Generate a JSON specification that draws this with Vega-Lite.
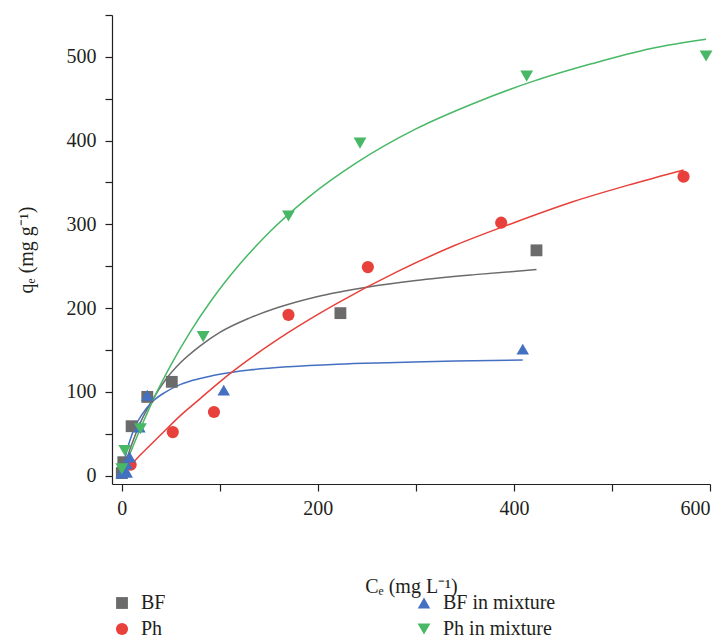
{
  "$schema": "https://vega.github.io/schema/vega-lite/v6.json",
  "width": 598,
  "height": 469,
  "autosize": "none",
  "padding": {"left": 112, "top": 15, "right": 18, "bottom": 157},
  "background": "white",
  "config": {
    "view": {"stroke": null},
    "font": "Liberation Serif",
    "axis": {
      "grid": false,
      "domainColor": "#231f20",
      "domainWidth": 1.2,
      "tickColor": "#231f20",
      "tickWidth": 1.2,
      "tickSize": 7,
      "labelFont": "Liberation Serif",
      "labelFontSize": 20,
      "labelColor": "#231f20",
      "titleFont": "Liberation Serif",
      "titleFontSize": 20,
      "titleFontWeight": "normal",
      "titleColor": "#231f20"
    },
    "legend": {
      "labelFont": "Liberation Serif",
      "labelFontSize": 20,
      "labelColor": "#231f20"
    }
  },
  "datasets": {
    "pts": [
      {"s": "BF", "x": 0, "y": 3},
      {"s": "BF", "x": 1.5, "y": 16},
      {"s": "BF", "x": 10, "y": 59},
      {"s": "BF", "x": 26, "y": 94},
      {"s": "BF", "x": 51, "y": 112},
      {"s": "BF", "x": 223, "y": 194},
      {"s": "BF", "x": 423, "y": 269},
      {"s": "Ph", "x": 9, "y": 13},
      {"s": "Ph", "x": 52, "y": 52},
      {"s": "Ph", "x": 94, "y": 76},
      {"s": "Ph", "x": 170, "y": 192},
      {"s": "Ph", "x": 251, "y": 249},
      {"s": "Ph", "x": 387, "y": 302},
      {"s": "Ph", "x": 573, "y": 357},
      {"s": "BF in mixture", "x": 0, "y": 3},
      {"s": "BF in mixture", "x": 2, "y": 8},
      {"s": "BF in mixture", "x": 5, "y": 4},
      {"s": "BF in mixture", "x": 5, "y": 14},
      {"s": "BF in mixture", "x": 8, "y": 22},
      {"s": "BF in mixture", "x": 18, "y": 58},
      {"s": "BF in mixture", "x": 26, "y": 96},
      {"s": "BF in mixture", "x": 104, "y": 102},
      {"s": "BF in mixture", "x": 409, "y": 151},
      {"s": "Ph in mixture", "x": 0, "y": 8},
      {"s": "Ph in mixture", "x": 3, "y": 30},
      {"s": "Ph in mixture", "x": 19, "y": 56},
      {"s": "Ph in mixture", "x": 83, "y": 166},
      {"s": "Ph in mixture", "x": 170, "y": 310},
      {"s": "Ph in mixture", "x": 243, "y": 397},
      {"s": "Ph in mixture", "x": 413, "y": 477},
      {"s": "Ph in mixture", "x": 596, "y": 501}
    ],
    "curves": [
      {"s": "BF", "x": 0, "y": 0},
      {"s": "BF", "x": 5, "y": 20},
      {"s": "BF", "x": 10, "y": 37},
      {"s": "BF", "x": 20, "y": 66},
      {"s": "BF", "x": 30, "y": 88},
      {"s": "BF", "x": 45, "y": 115},
      {"s": "BF", "x": 60, "y": 135},
      {"s": "BF", "x": 80, "y": 155},
      {"s": "BF", "x": 100, "y": 171},
      {"s": "BF", "x": 130, "y": 188},
      {"s": "BF", "x": 160, "y": 201},
      {"s": "BF", "x": 200, "y": 214},
      {"s": "BF", "x": 250, "y": 225},
      {"s": "BF", "x": 300, "y": 233},
      {"s": "BF", "x": 360, "y": 240},
      {"s": "BF", "x": 423, "y": 246},
      {"s": "BF in mixture", "x": 0, "y": 0},
      {"s": "BF in mixture", "x": 2, "y": 13},
      {"s": "BF in mixture", "x": 5, "y": 29},
      {"s": "BF in mixture", "x": 10, "y": 48},
      {"s": "BF in mixture", "x": 15, "y": 62},
      {"s": "BF in mixture", "x": 20, "y": 72},
      {"s": "BF in mixture", "x": 30, "y": 87},
      {"s": "BF in mixture", "x": 45, "y": 100},
      {"s": "BF in mixture", "x": 60, "y": 109},
      {"s": "BF in mixture", "x": 80, "y": 116},
      {"s": "BF in mixture", "x": 100, "y": 121},
      {"s": "BF in mixture", "x": 130, "y": 126},
      {"s": "BF in mixture", "x": 170, "y": 130},
      {"s": "BF in mixture", "x": 220, "y": 133},
      {"s": "BF in mixture", "x": 280, "y": 135},
      {"s": "BF in mixture", "x": 340, "y": 137},
      {"s": "BF in mixture", "x": 409, "y": 138},
      {"s": "Ph", "x": 8, "y": 11},
      {"s": "Ph", "x": 20, "y": 26},
      {"s": "Ph", "x": 40, "y": 49},
      {"s": "Ph", "x": 60, "y": 72},
      {"s": "Ph", "x": 80, "y": 92},
      {"s": "Ph", "x": 100, "y": 112},
      {"s": "Ph", "x": 130, "y": 139},
      {"s": "Ph", "x": 170, "y": 171},
      {"s": "Ph", "x": 220, "y": 206},
      {"s": "Ph", "x": 280, "y": 243},
      {"s": "Ph", "x": 340, "y": 275},
      {"s": "Ph", "x": 400, "y": 302},
      {"s": "Ph", "x": 460, "y": 327},
      {"s": "Ph", "x": 520, "y": 348},
      {"s": "Ph", "x": 573, "y": 365},
      {"s": "Ph in mixture", "x": 2, "y": 6},
      {"s": "Ph in mixture", "x": 5, "y": 16},
      {"s": "Ph in mixture", "x": 10, "y": 31},
      {"s": "Ph in mixture", "x": 20, "y": 59},
      {"s": "Ph in mixture", "x": 35, "y": 98},
      {"s": "Ph in mixture", "x": 50, "y": 132},
      {"s": "Ph in mixture", "x": 70, "y": 172},
      {"s": "Ph in mixture", "x": 90, "y": 207},
      {"s": "Ph in mixture", "x": 120, "y": 252},
      {"s": "Ph in mixture", "x": 150, "y": 290},
      {"s": "Ph in mixture", "x": 190, "y": 332},
      {"s": "Ph in mixture", "x": 240, "y": 374},
      {"s": "Ph in mixture", "x": 300, "y": 414},
      {"s": "Ph in mixture", "x": 360, "y": 445},
      {"s": "Ph in mixture", "x": 420, "y": 471},
      {"s": "Ph in mixture", "x": 480, "y": 492},
      {"s": "Ph in mixture", "x": 540, "y": 510},
      {"s": "Ph in mixture", "x": 596, "y": 521}
    ]
  },
  "resolve": {"scale": {"stroke": "independent"}, "legend": {"stroke": "independent"}},
  "layer": [
    {
      "data": {"name": "curves"},
      "mark": {"type": "line", "interpolate": "monotone", "strokeWidth": 1.5},
      "encoding": {
        "x": {"field": "x", "type": "quantitative"},
        "y": {"field": "y", "type": "quantitative"},
        "stroke": {
          "field": "s", "type": "nominal", "legend": null,
          "scale": {
            "domain": ["BF", "Ph", "BF in mixture", "Ph in mixture"],
            "range": ["#6b6b6b", "#e8403a", "#4470c2", "#48b866"]
          }
        },
        "detail": {"field": "s"}
      }
    },
    {
      "data": {"name": "pts"},
      "mark": {"type": "point", "filled": true, "opacity": 1, "strokeWidth": 0},
      "encoding": {
        "x": {
          "field": "x", "type": "quantitative",
          "scale": {"domain": [-10, 600], "nice": false, "zero": false},
          "axis": {
            "title": "Cₑ (mg L⁻¹)",
            "values": [0, 100, 200, 300, 400, 500, 600],
            "labelExpr": "datum.value % 200 === 0 ? datum.label : ''",
            "labelPadding": 7,
            "titlePadding": 58
          }
        },
        "y": {
          "field": "y", "type": "quantitative",
          "scale": {"domain": [-10, 550], "nice": false, "zero": false},
          "axis": {
            "title": "qₑ (mg g⁻¹)",
            "values": [0, 50, 100, 150, 200, 250, 300, 350, 400, 450, 500, 550],
            "labelExpr": "datum.value % 100 === 0 ? datum.label : ''",
            "labelPadding": 9,
            "titlePadding": 30
          }
        },
        "color": {
          "field": "s", "type": "nominal",
          "scale": {
            "domain": ["BF", "Ph", "BF in mixture", "Ph in mixture"],
            "range": ["#6b6b6b", "#e8403a", "#4470c2", "#48b866"]
          },
          "legend": {
            "title": null,
            "orient": "none",
            "legendX": 0,
            "legendY": 578,
            "columns": 2,
            "columnPadding": 248,
            "rowPadding": 6,
            "labelOffset": 9,
            "padding": 0
          }
        },
        "shape": {
          "field": "s", "type": "nominal",
          "scale": {
            "domain": ["BF", "Ph", "BF in mixture", "Ph in mixture"],
            "range": ["square", "circle", "triangle-up", "triangle-down"]
          },
          "legend": {
            "title": null,
            "orient": "none",
            "legendX": 0,
            "legendY": 578,
            "columns": 2,
            "columnPadding": 248,
            "rowPadding": 6,
            "labelOffset": 9,
            "padding": 0
          }
        },
        "size": {
          "field": "s", "type": "nominal",
          "scale": {
            "domain": ["BF", "Ph", "BF in mixture", "Ph in mixture"],
            "range": [140, 165, 260, 260]
          },
          "legend": {
            "title": null,
            "orient": "none",
            "legendX": 0,
            "legendY": 578,
            "columns": 2,
            "columnPadding": 248,
            "rowPadding": 6,
            "labelOffset": 9,
            "padding": 0
          }
        }
      }
    }
  ]
}
